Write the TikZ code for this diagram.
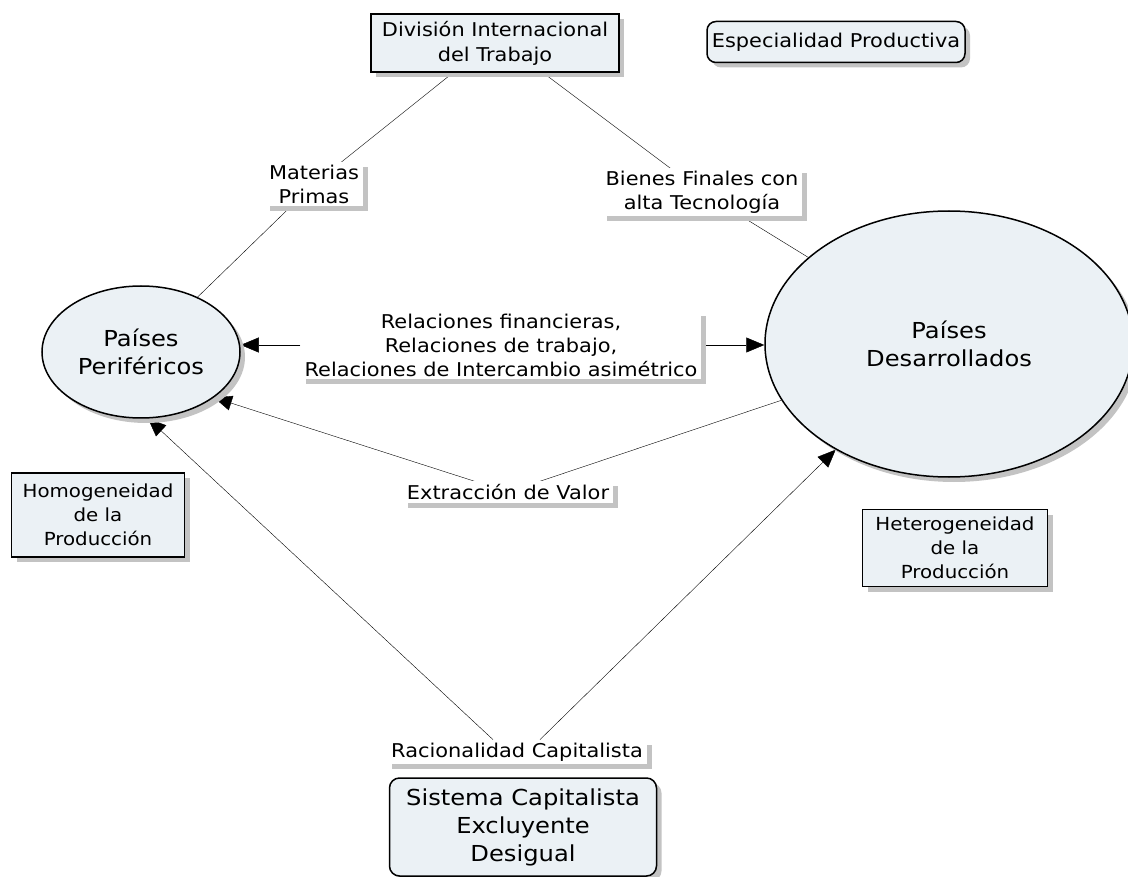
\documentclass[tikz,border=0pt]{standalone}
\usepackage{fontspec}
\setmainfont{DejaVu Sans}[FakeStretch=1.1]
\usetikzlibrary{shapes.geometric,shadows,arrows.meta,backgrounds}
\definecolor{cmapfill}{RGB}{235,241,245}
\definecolor{cmapshadow}{RGB}{195,195,195}
\tikzset{
  shade box/.style={drop shadow={shadow xshift=5pt,shadow yshift=-5pt,fill=cmapshadow,opacity=1}},
  concept/.style={draw,line width=1.5pt,fill=cmapfill,shade box,align=center,inner sep=0pt},
  linkword/.style={fill=white,shade box,align=center,inner xsep=4pt,inner ysep=3pt,
    font=\fontsize{19}{24}\selectfont},
  link/.style={line width=1.5pt},
  tip/.style={-{Triangle[length=18pt,width=15pt]}}
}
\begin{document}
\begin{tikzpicture}[x=1pt,y=-1pt]
  \useasboundingbox (0,0) rectangle (1128,877);
  \node[concept,minimum width=248pt,minimum height=58pt,font=\fontsize{19}{25}\selectfont]
    (div) at (495,43) {División Internacional\\del Trabajo};
  \node[concept,rounded corners=9pt,minimum width=258pt,minimum height=41pt,font=\fontsize{19}{25}\selectfont]
    (esp) at (836,42) {Especialidad Productiva};
  \node[concept,ellipse,minimum width=198pt,minimum height=132pt,font=\fontsize{22}{28}\selectfont]
    (per) at (141,352) {Países\\Periféricos};
  \node[concept,ellipse,minimum width=368pt,minimum height=266pt,font=\fontsize{22}{28}\selectfont]
    (des) at (949,344) {Países\\Desarrollados};
  \node[concept,minimum width=173pt,minimum height=84pt,font=\fontsize{18}{24}\selectfont]
    (hom) at (98,515) {Homogeneidad\\de la\\Producción};
  \node[concept,minimum width=185pt,minimum height=77pt,font=\fontsize{18}{24}\selectfont]
    (het) at (955,548) {Heterogeneidad\\de la\\Producción};
  \node[concept,rounded corners=10pt,minimum width=267pt,minimum height=98pt,font=\fontsize{22}{28}\selectfont]
    (sis) at (523,827) {Sistema Capitalista\\Excluyente\\Desigual};
  \node[linkword] (mat) at (314,184) {Materias\\Primas};
  \node[linkword] (bie) at (702,192) {Bienes Finales con\\alta Tecnología};
  \node[linkword] (rel) at (501,345) {Relaciones financieras,\\Relaciones de trabajo,\\Relaciones de Intercambio asimétrico};
  \node[linkword] (ext) at (508,492) {Extracción de Valor};
  \node[linkword] (rac) at (517,752) {Racionalidad Capitalista};
  \begin{scope}[on background layer,link]
    \draw ([xshift=-42pt]div.south) -- (mat.center) -- (per);
    \draw ([xshift=48pt]div.south) -- (bie.center) -- (des);
    \draw[tip] (rel.west) -- (rel.west -| per.east);
    \draw[tip] (rel.east) -- (rel.east -| des.west);
    \draw[tip] (des) -- (ext.center) -- (per.-32);
    \draw[tip] ([xshift=-24pt]rac.north) -- (per.-84);
    \draw[tip] ([xshift=23pt]rac.north) -- (des.223);
  \end{scope}
\end{tikzpicture}
\end{document}
